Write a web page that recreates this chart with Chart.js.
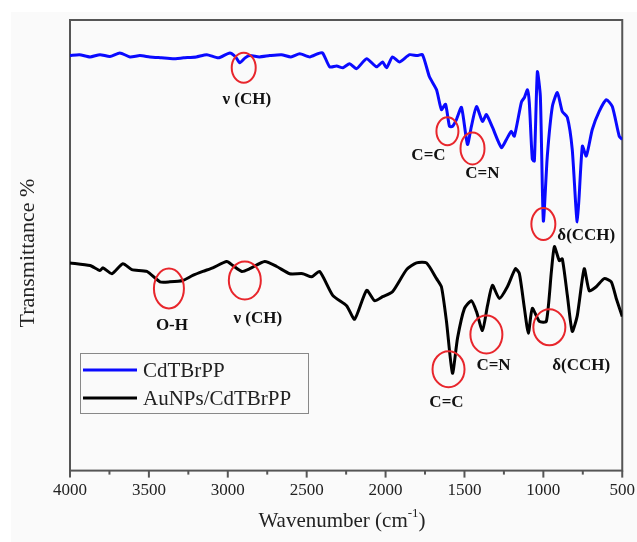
<!DOCTYPE html>
<html lang="en">
<head>
    <meta charset="UTF-8">
    <script src="https://cdn.jsdelivr.net/npm/chart.js@4.4.0/dist/chart.umd.min.js"></script>
    <style>
        body { margin: 0; background: #fff; }
        #wrap { width: 637px; height: 542px; position: relative; }
    </style>
    <title>FTIR spectra</title>
</head>
<body>
    <div id="wrap"><canvas id="ftir"></canvas></div>

    <script>
        // series: wavenumber (cm-1) and transmittance (a.u.)
        const seriesLabels = ['CdTBrPP', 'AuNPs/CdTBrPP'];
        const seriesColors = ['#0a0aff', '#000000'];

        const blueWave = [4000, 3940, 3873, 3810, 3747, 3684, 3620, 3557, 3494, 3420, 3348, 3280, 3200, 3133, 3060, 2987, 2950, 2924, 2890, 2861,
            2800, 2734, 2660, 2600, 2544, 2480, 2430, 2399, 2354, 2310, 2270, 2228, 2184, 2120, 2057, 2019, 1994, 1956, 1911, 1848,
            1800, 1766, 1722, 1677, 1646, 1620, 1595, 1576, 1551, 1519, 1481, 1456, 1424, 1386, 1361, 1323, 1266, 1234, 1203, 1184,
            1139, 1120, 1101, 1089, 1070, 1057, 1038, 1019, 1000, 975, 943, 911, 880, 848, 817, 785, 753, 728, 690, 646,
            601, 563, 519, 500];
        const blueT = [92.1, 92.3, 91.8, 92.3, 91.9, 92.7, 91.8, 92.1, 91.8, 91.6, 91.4, 91.6, 91.8, 92.3, 91.6, 92.7, 91.8, 90.5, 91.6, 92.1,
            91.8, 92.1, 92.3, 91.8, 92.5, 91.8, 92.5, 92.7, 89.6, 89.8, 89.4, 90.3, 89.2, 91.4, 89.6, 90.7, 89.4, 91.8, 90.7, 92.3,
            92.1, 92.3, 87.4, 84.5, 80.1, 81.3, 76.4, 76.4, 77.9, 80.6, 72.4, 76.4, 80.8, 77.5, 79.0, 76.2, 71.7, 73.5, 75.3, 74.2,
            81.8, 82.8, 84.5, 81.6, 69.1, 68.7, 88.5, 83.0, 55.4, 69.8, 80.8, 83.9, 79.7, 78.4, 71.3, 55.2, 72.0, 69.8, 75.7, 79.7,
            82.3, 80.8, 74.2, 73.5];

        const blackWave = [4000, 3873, 3810, 3791, 3735, 3665, 3608, 3513, 3430, 3367, 3285, 3222, 3158, 3095, 3006, 2968, 2911, 2861, 2766, 2690,
            2608, 2525, 2468, 2418, 2335, 2247, 2196, 2120, 2070, 2019, 1956, 1867, 1804, 1741, 1677, 1646, 1614, 1576, 1544, 1500,
            1456, 1424, 1386, 1354, 1323, 1279, 1228, 1177, 1152, 1120, 1095, 1070, 1025, 981, 949, 930, 899, 880, 848, 817,
            785, 741, 709, 665, 614, 570, 538, 500];
        const blackT = [46.1, 45.5, 44.4, 45.0, 43.7, 45.9, 44.6, 44.2, 41.9, 41.9, 42.2, 43.3, 44.2, 45.0, 46.4, 45.5, 44.2, 44.8, 46.4, 45.3,
            43.7, 43.7, 43.0, 44.2, 38.9, 36.6, 33.6, 40.0, 37.7, 38.6, 39.7, 44.6, 46.1, 46.1, 42.6, 40.8, 33.1, 21.6, 29.4, 36.0,
            37.7, 35.3, 31.1, 36.6, 41.1, 38.2, 40.8, 44.8, 43.7, 36.0, 30.5, 36.0, 33.1, 33.1, 44.2, 49.7, 46.6, 47.0, 38.9, 30.9,
            34.4, 44.8, 39.9, 40.8, 42.6, 41.9, 38.2, 34.2];

        const xTicks = [4000, 3500, 3000, 2500, 2000, 1500, 1000, 500];

        // band assignments: red ellipse centre + label position (wavenumber, T)
        const markWave = [2899, 1608, 1449, 1000, 3373, 2892, 1601, 1361, 962];
        const markT = [89.4, 75.3, 71.5, 54.7, 40.4, 42.2, 22.5, 30.2, 31.8];
        const markRx = [12, 11, 12, 12, 15, 16, 16, 16, 16];
        const markRy = [15, 14, 16, 16, 20, 19, 18, 19, 18];
        const bandLabels = ['ν (CH)', 'C=C', 'C=N', 'δ(CCH)', 'O-H', 'ν (CH)', 'C=C', 'C=N', 'δ(CCH)'];
        const labelWave = [2880, 1728, 1386, 728, 3354, 2810, 1614, 1316, 760];
        const labelT = [82.3, 69.8, 65.8, 52.1, 32.2, 33.8, 15.0, 23.4, 23.4];

        const serif = '"Liberation Serif", "Times New Roman", serif';

        const decorPlugin = {
            id: 'decor',
            beforeDraw(chart) {
                const c = chart.ctx;
                c.save();
                c.fillStyle = '#fafafa';
                c.fillRect(11, 12, chart.width - 11, chart.height - 12);
                c.restore();
            },
            beforeDatasetsDraw(chart) {
                const c = chart.ctx;
                const a = chart.chartArea;
                const xs = chart.scales.x;
                c.save();
                c.strokeStyle = '#555';
                c.lineWidth = 2;
                c.strokeRect(a.left, a.top, a.right - a.left, a.bottom - a.top);
                // bottom tick marks, major every 500, minor in between
                for (let w = 500; w <= 4000; w += 250) {
                    const px = xs.getPixelForValue(w);
                    const len = w % 500 === 0 ? 7 : 4;
                    c.beginPath();
                    c.moveTo(px, a.bottom);
                    c.lineTo(px, a.bottom + len);
                    c.stroke();
                }
                c.restore();
            },
            afterDraw(chart) {
                const c = chart.ctx;
                const xs = chart.scales.x;
                const ys = chart.scales.y;
                c.save();

                // ellipses
                c.strokeStyle = '#e8262c';
                c.lineWidth = 2;
                for (let i = 0; i < markWave.length; i++) {
                    c.beginPath();
                    c.ellipse(xs.getPixelForValue(markWave[i]), ys.getPixelForValue(markT[i]), markRx[i], markRy[i], 0, 0, Math.PI * 2);
                    c.stroke();
                }

                // band labels
                c.fillStyle = '#111';
                c.font = 'bold 17px ' + serif;
                c.textAlign = 'center';
                c.textBaseline = 'middle';
                for (let i = 0; i < bandLabels.length; i++) {
                    c.fillText(bandLabels[i], xs.getPixelForValue(labelWave[i]), ys.getPixelForValue(labelT[i]));
                }

                // legend box
                c.strokeStyle = '#888';
                c.lineWidth = 1;
                c.strokeRect(80.5, 353.5, 228, 60);
                c.font = '21px ' + serif;
                c.textAlign = 'left';
                c.fillStyle = '#222';
                chart.data.datasets.forEach((ds, i) => {
                    const y = 370 + i * 28;
                    c.strokeStyle = ds.borderColor;
                    c.lineWidth = 3;
                    c.beginPath();
                    c.moveTo(83, y);
                    c.lineTo(137, y);
                    c.stroke();
                    c.fillText(ds.label, 143, y + 1);
                });

                // axis titles
                c.fillStyle = '#222';
                c.font = '21px ' + serif;
                c.textAlign = 'left';
                c.textBaseline = 'alphabetic';
                const t1 = 'Wavenumber (cm';
                const t2 = '-1';
                const t3 = ')';
                const w1 = c.measureText(t1).width;
                c.font = '13px ' + serif;
                const w2 = c.measureText(t2).width;
                c.font = '21px ' + serif;
                const w3 = c.measureText(t3).width;
                let x0 = 342 - (w1 + w2 + w3) / 2;
                c.fillText(t1, x0, 527);
                c.font = '13px ' + serif;
                c.fillText(t2, x0 + w1, 517);
                c.font = '21px ' + serif;
                c.fillText(t3, x0 + w1 + w2, 527);

                c.translate(28, 253);
                c.rotate(-Math.PI / 2);
                c.textAlign = 'center';
                c.textBaseline = 'middle';
                c.font = '22px ' + serif;
                c.fillText('Transmittance %', 0, 0);
                c.restore();
            }
        };

        const toPoints = (xs, ys) => xs.map((x, i) => ({ x: x, y: ys[i] }));

        new Chart(document.getElementById('ftir'), {
            type: 'line',
            data: {
                datasets: [
                    {
                        label: seriesLabels[0],
                        data: toPoints(blueWave, blueT),
                        borderColor: seriesColors[0],
                        borderWidth: 3,
                        pointRadius: 0,
                        tension: 0.2,
                        fill: false
                    },
                    {
                        label: seriesLabels[1],
                        data: toPoints(blackWave, blackT),
                        borderColor: seriesColors[1],
                        borderWidth: 3,
                        pointRadius: 0,
                        tension: 0.2,
                        fill: false
                    }
                ]
            },
            options: {
                responsive: true,
                maintainAspectRatio: false,
                animation: false,
                layout: { padding: { left: 70, right: 14, top: 20, bottom: 39 } },
                plugins: { legend: { display: false }, tooltip: { enabled: false } },
                scales: {
                    x: {
                        type: 'linear',
                        reverse: true,
                        min: 500,
                        max: 4000,
                        afterBuildTicks: (scale) => { scale.ticks = xTicks.map(v => ({ value: v })); },
                        grid: { display: true, drawOnChartArea: false, drawTicks: true, tickLength: 8, tickColor: 'transparent' },
                        border: { display: false },
                        ticks: {
                            color: '#222',
                            font: { family: serif, size: 17 },
                            padding: 2,
                            maxRotation: 0,
                            autoSkip: false,
                            callback: (v) => String(v)
                        }
                    },
                    y: {
                        display: false,
                        min: 0,
                        max: 100
                    }
                }
            },
            plugins: [decorPlugin]
        });
    </script>
</body>
</html>
